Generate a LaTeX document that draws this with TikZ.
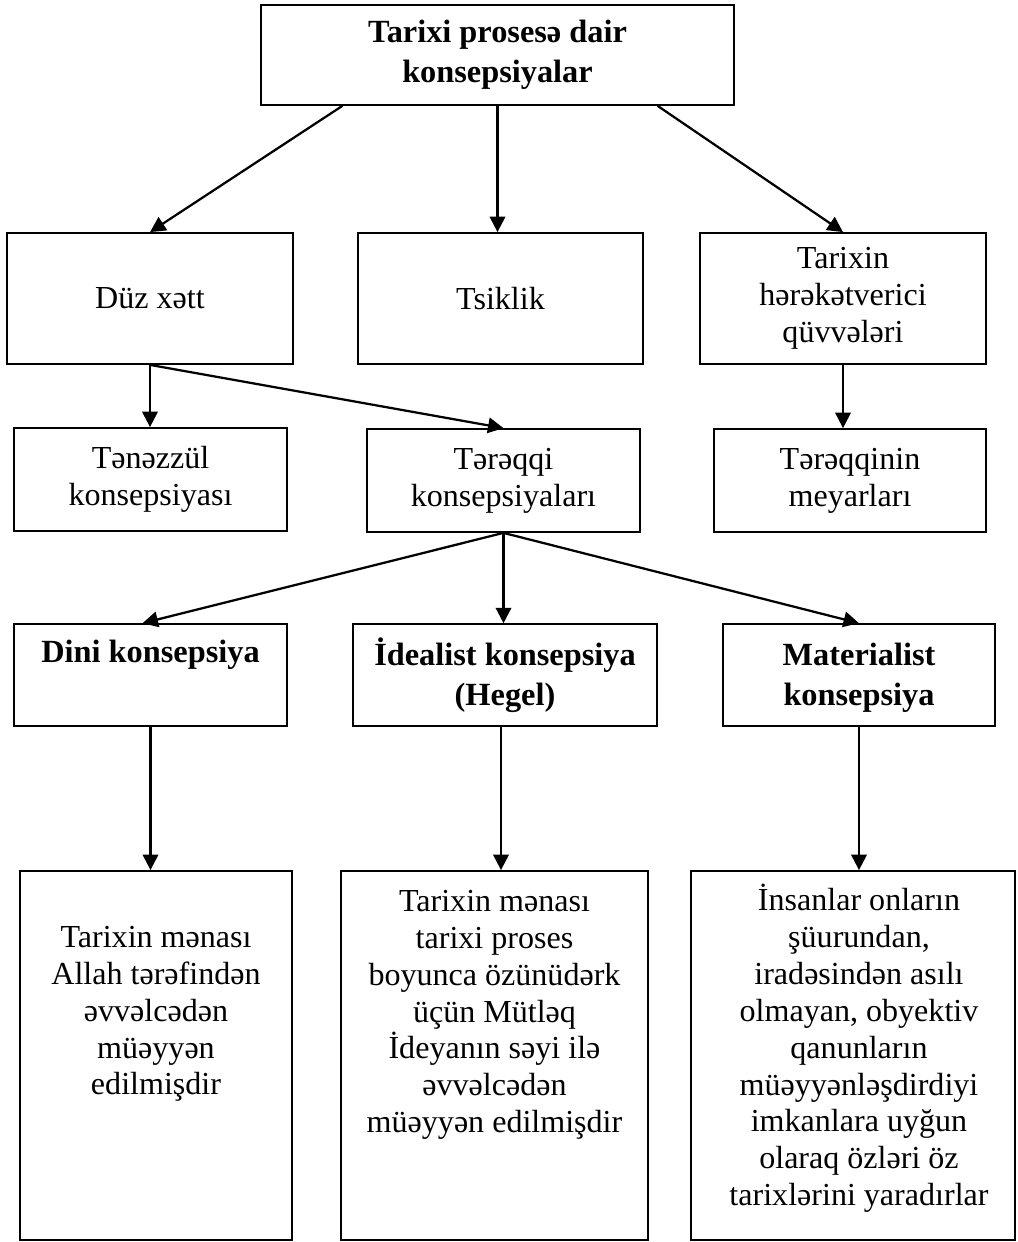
\documentclass[tikz,border=0pt]{standalone}
\usepackage{fontspec}
\setmainfont{Liberation Serif}
\usetikzlibrary{arrows.meta}

\begin{document}
\begin{tikzpicture}[x=0.025cm,y=-0.025cm,
      font=\fontsize{22.8}{26.2}\selectfont,
      e/.style={draw,line width=1.1pt,align=center,inner sep=0pt},
      eb/.style={e,font=\fontsize{23}{28.5}\selectfont\bfseries},
      tx/.style={anchor=north,align=center,inner sep=0pt},
      a/.style={-{Triangle[length=11pt,width=11pt]},line width=1.6pt}]
  \useasboundingbox (0,0) rectangle (1018,1242);
  % top
  \node[eb,minimum width=11.83cm,minimum height=2.5cm] (top) at (497.5,55)
    {Tarixi prosesə dair\\konsepsiyalar};
  % second row
  \node[e,minimum width=7.15cm,minimum height=3.28cm] (duz) at (150,298.5) {Düz xətt};
  \node[e,minimum width=7.13cm,minimum height=3.28cm] (tsik) at (500.5,298.5) {Tsiklik};
  \node[e,minimum width=7.15cm,minimum height=3.28cm] (herek) at (843,298.5)
    {Tarixin\\hərəkətverici\\qüvvələri};
  % third row
  \node[e,minimum width=6.83cm,minimum height=2.58cm] (tenez) at (150.5,479.5)
    {Tənəzzül\\konsepsiyası};
  \node[e,minimum width=6.83cm,minimum height=2.58cm] (tereq) at (503.5,480.5)
    {Tərəqqi\\konsepsiyaları};
  \node[e,minimum width=6.8cm,minimum height=2.58cm] (meyar) at (850,480.5)
    {Tərəqqinin\\meyarları};
  % fourth row
  \node[eb,minimum width=6.83cm,minimum height=2.55cm] (dini) at (150.5,675)
    {Dini konsepsiya\\\vphantom{y}};
  \node[eb,minimum width=7.6cm,minimum height=2.55cm] (ideal) at (505,675)
    {İdealist konsepsiya\\(Hegel)};
  \node[eb,minimum width=6.8cm,minimum height=2.55cm] (mater) at (859,675)
    {\vphantom{İ}Materialist\\konsepsiya};
  % bottom boxes
  \node[e,minimum width=6.8cm,minimum height=9.23cm] (mean1) at (156,1055.5) {};
  \node[e,minimum width=7.68cm,minimum height=9.23cm] (mean2) at (494.5,1055.5) {};
  \node[e,minimum width=8.1cm,minimum height=9.23cm] (mean3) at (853,1055.5) {};
  \node[tx] (txt1) at ([shift={(0,56)}]mean1.north)
    {Tarixin mənası\\Allah tərəfindən\\əvvəlcədən\\müəyyən\\edilmişdir};
  \node[tx] (txt2) at ([shift={(0,20)}]mean2.north)
    {Tarixin mənası\\tarixi proses\\boyunca özünüdərk\\üçün Mütləq\\İdeyanın səyi ilə\\əvvəlcədən\\müəyyən edilmişdir};
  \node[tx] (txt3) at ([shift={(6,14)}]mean3.north)
    {İnsanlar onların\\şüurundan,\\iradəsindən asılı\\olmayan, obyektiv\\qanunların\\müəyyənləşdirdiyi\\imkanlara uyğun\\olaraq özləri öz\\tarixlərini yaradırlar};
  % arrows
  \draw[a] ([shift={(-155,0)}]top.south) -- (duz.north);
  \draw[a] (top.south) -- (top.south |- tsik.north);
  \draw[a] ([shift={(160,0)}]top.south) -- (herek.north);
  \draw[a] (duz.south) -- (duz.south |- tenez.north);
  \draw[a] (duz.south) -- (tereq.north);
  \draw[a] (herek.south) -- (herek.south |- meyar.north);
  \draw[a] (tereq.south) -- ([shift={(-8,0)}]dini.north);
  \draw[a] (tereq.south) -- (tereq.south |- ideal.north);
  \draw[a] (tereq.south) -- (mater.north);
  \draw[a] (dini.south) -- (dini.south |- mean1.north);
  \draw[a] ([shift={(-4,0)}]ideal.south) -- ([shift={(-4,0)}]ideal.south |- mean2.north);
  \draw[a] (mater.south) -- (mater.south |- mean3.north);
\end{tikzpicture}
\end{document}
